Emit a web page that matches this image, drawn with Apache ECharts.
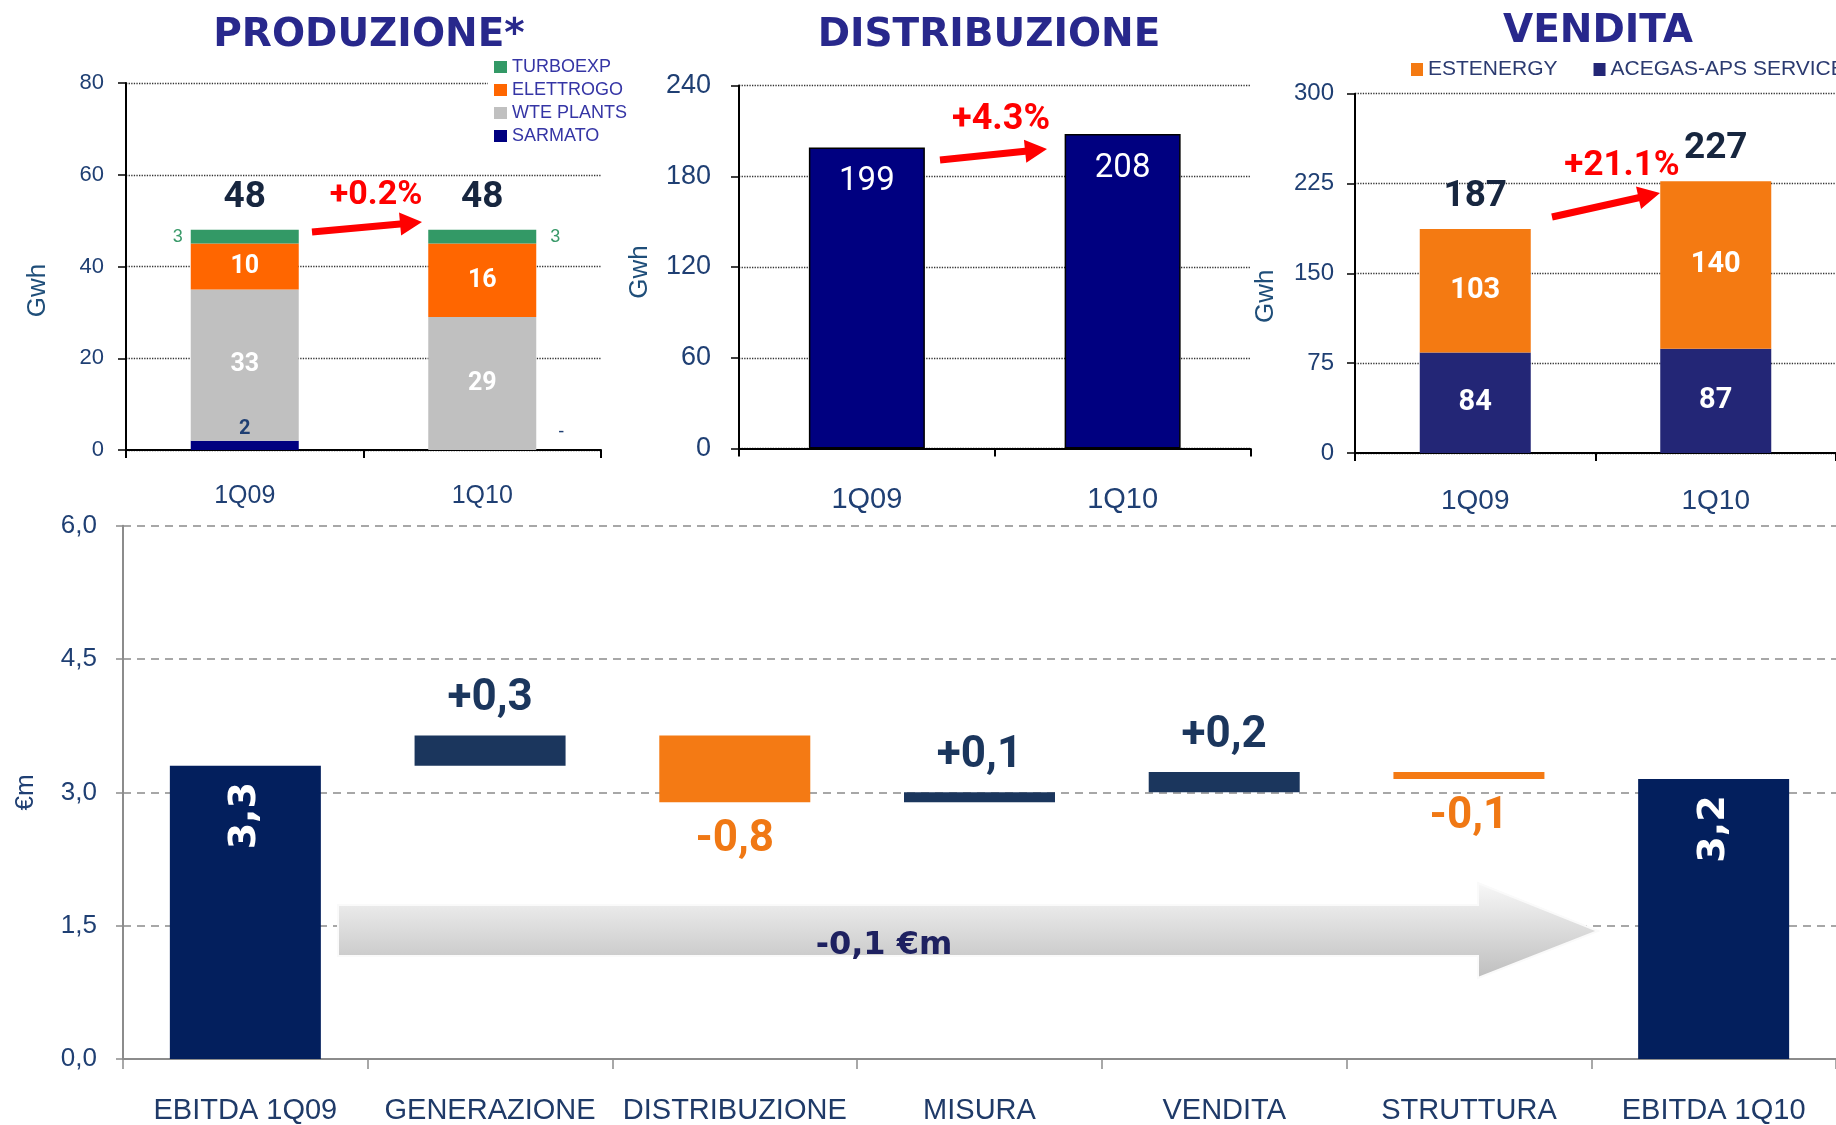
<!DOCTYPE html>
<html>
<head>
<meta charset="utf-8">
<script src="https://cdn.jsdelivr.net/npm/echarts@6/dist/echarts.min.js"></script>
<style>
  html, body { margin: 0; padding: 0; background: #fff; }
  #chart { width: 1836px; height: 1125px; }
</style>
</head>
<body>
<div id="chart"></div>
<script>
// --- data ---
const prodCats = ["1Q09", "1Q10"];
const prodSarmato = [2, 0];
const prodWte = [33, 29];
const prodElettrogo = [10, 16];
const prodTurbo = [3, 3];

const distCats = ["1Q09", "1Q10"];
const distValues = [199, 208];

const vendCats = ["1Q09", "1Q10"];
const vendAcegas = [84, 87];
const vendEstenergy = [103, 140];

const wfCats = ["EBITDA 1Q09", "GENERAZIONE", "DISTRIBUZIONE", "MISURA", "VENDITA", "STRUTTURA", "EBITDA 1Q10"];
const wfStart = 3.3;
const wfDeltas = [0.34, -0.75, 0.11, 0.23, -0.08];
const wfLabels = ["3,3", "+0,3", "-0,8", "+0,1", "+0,2", "-0,1", "3,2"];

const growthLabels = ["+0.2%", "+4.3%", "+21.1%"];
const totalChange = "-0,1 €m";

// --- styles ---
const SANS = '"Liberation Sans", Arial, sans-serif';
const COND = 'Roboto, sans-serif';
const AXIS_BLUE = "#1F3F73";
const NAVY = "#000080";
const TOTAL_DARK = "#17263F";

const prodTotal = prodCats.map((c, i) => prodSarmato[i] + prodWte[i] + prodElettrogo[i] + prodTurbo[i]);
const vendTotal = vendCats.map((c, i) => vendAcegas[i] + vendEstenergy[i]);

// waterfall: transparent base + visible segment
const wfBase = [0];
const wfHeight = [wfStart];
let run = wfStart;
wfDeltas.forEach(d => {
  if (d >= 0) { wfBase.push(run); wfHeight.push(d); }
  else { wfBase.push(run + d); wfHeight.push(-d); }
  run += d;
});
wfBase.push(0);
wfHeight.push(run);

const wfData = wfHeight.map((h, i) => {
  const isTotal = i === 0 || i === wfHeight.length - 1;
  if (isTotal) {
    return {
      value: h,
      itemStyle: { color: "#031F5D" },
      label: {
        show: true, formatter: wfLabels[i], position: ["50%", 50], rotate: 90,
        align: "center", verticalAlign: "middle", color: "#fff",
        fontFamily: '"DejaVu Sans", sans-serif', fontWeight: "bold", fontSize: 38
      }
    };
  }
  const pos = wfDeltas[i - 1] >= 0;
  return {
    value: h,
    itemStyle: { color: pos ? "#1B365D" : "#F47A14" },
    label: {
      show: true, formatter: wfLabels[i], position: pos ? "top" : "bottom",
      distance: pos ? 14 : 16, color: pos ? "#1B365D" : "#F07814",
      fontFamily: COND, fontWeight: "bold", fontSize: 44
    }
  };
});

function arrow(x1, y1, x2, y2, shaft, headW, headL) {
  const len = Math.hypot(x2 - x1, y2 - y1);
  const ux = (x2 - x1) / len, uy = (y2 - y1) / len;
  const nx = -uy, ny = ux;
  const bx = x2 - ux * headL, by = y2 - uy * headL;
  return [
    [x1 + nx * shaft / 2, y1 + ny * shaft / 2],
    [bx + nx * shaft / 2, by + ny * shaft / 2],
    [bx + nx * headW / 2, by + ny * headW / 2],
    [x2, y2],
    [bx - nx * headW / 2, by - ny * headW / 2],
    [bx - nx * shaft / 2, by - ny * shaft / 2],
    [x1 - nx * shaft / 2, y1 - ny * shaft / 2]
  ];
}

function redArrow(x1, y1, x2, y2) {
  return { type: "polygon", z: 100, shape: { points: arrow(x1, y1, x2, y2, 7, 23, 22) }, style: { fill: "#FF0000" } };
}

function txt(x, y, text, fill, font) {
  return {
    type: "text", x: x, y: y, z: 101,
    style: { text: text, fill: fill, font: font, textAlign: "center", textVerticalAlign: "middle", align: "center", verticalAlign: "middle" }
  };
}

function topX(idx, data, size, margin) {
  return {
    type: "category", gridIndex: idx, data: data,
    axisLine: { lineStyle: { color: "#000", width: 2 } },
    axisTick: { show: true, length: 8, lineStyle: { color: "#000", width: 2 } },
    axisLabel: { color: AXIS_BLUE, fontFamily: SANS, fontSize: size, margin: margin }
  };
}

function topY(idx, max, interval, size, margin, nameGap, namePad) {
  return {
    type: "value", gridIndex: idx, min: 0, max: max, interval: interval,
    name: "Gwh", nameLocation: "middle", nameRotate: 90, nameGap: nameGap,
    nameTextStyle: { color: "#1F4E79", fontFamily: SANS, fontSize: 26, padding: namePad },
    axisLine: { show: true, lineStyle: { color: "#000", width: 2 } },
    axisTick: { show: true, length: 8, lineStyle: { color: "#000", width: 1.5 } },
    axisLabel: { color: AXIS_BLUE, fontFamily: SANS, fontSize: size, margin: margin },
    splitLine: { lineStyle: { type: "dotted", color: "#333", width: 1.3 } }
  };
}

function totalSeries(axis, data) {
  return {
    type: "scatter", xAxisIndex: axis, yAxisIndex: axis, data: data, symbolSize: 1, silent: true,
    itemStyle: { color: "rgba(0,0,0,0)", opacity: 1 },
    label: { show: true, position: "top", distance: 13, color: TOTAL_DARK, opacity: 1, fontFamily: COND, fontWeight: "bold", fontSize: 37 }
  };
}

const chart = echarts.init(document.getElementById("chart"));

chart.setOption({
  animation: false,
  title: [
    { text: "PRODUZIONE*", left: 369, top: 16 },
    { text: "DISTRIBUZIONE", left: 989, top: 16 },
    { text: "VENDITA", left: 1598, top: 12 }
  ].map(t => Object.assign(t, {
    textAlign: "center", padding: 0,
    textStyle: { color: "#28288C", fontFamily: '"DejaVu Sans", sans-serif', fontWeight: "bold", fontSize: 39 }
  })),
  legend: [
    {
      data: ["TURBOEXP", "ELETTROGO", "WTE PLANTS", "SARMATO"],
      orient: "vertical", left: 488, top: 56, padding: [2, 4, 2, 6], itemGap: 5,
      backgroundColor: "#fff",
      itemWidth: 13, itemHeight: 12, icon: "rect", selectedMode: false,
      textStyle: { color: "#3535A5", fontFamily: SANS, fontSize: 18 }
    },
    {
      data: ["ESTENERGY", "ACEGAS-APS SERVICE"],
      orient: "horizontal", left: 1411, top: 59, width: 600, padding: 0, itemGap: 36,
      itemWidth: 12, itemHeight: 13, icon: "rect", selectedMode: false,
      textStyle: { color: "#2B3A70", fontFamily: SANS, fontSize: 21 }
    }
  ],
  grid: [
    { left: 126, top: 83, width: 475, height: 367 },
    { left: 739, top: 85.5, width: 511.5, height: 363 },
    { left: 1355, top: 93.7, width: 494, height: 359.3 },
    { left: 123, top: 525.7, width: 1713, height: 534 }
  ],
  xAxis: [
    topX(0, prodCats, 25, 34),
    topX(1, distCats, 29, 37),
    topX(2, vendCats, 28, 34),
    {
      type: "category", gridIndex: 3, data: wfCats,
      axisLine: { lineStyle: { color: "#8C8C8C", width: 2 } },
      axisTick: { show: true, length: 10, lineStyle: { color: "#8C8C8C", width: 1.5 } },
      axisLabel: { interval: 0, color: "#1F3A68", fontFamily: SANS, fontSize: 29, margin: 37 }
    }
  ],
  yAxis: [
    topY(0, 80, 20, 22, 22, 75, [0, 48, 0, 0]),
    topY(1, 240, 60, 27, 28, 86, [0, 10, 0, 0]),
    topY(2, 300, 75, 24, 21, 76, [0, 46, 0, 0]),
    {
      type: "value", gridIndex: 3, min: 0, max: 6, interval: 1.5,
      name: "€m", nameLocation: "middle", nameRotate: 90, nameGap: 84,
      nameTextStyle: { color: AXIS_BLUE, fontFamily: SANS, fontSize: 26 },
      axisLine: { show: true, lineStyle: { color: "#8C8C8C", width: 2 } },
      axisTick: { show: true, length: 7, lineStyle: { color: "#8C8C8C", width: 1.5 } },
      axisLabel: { color: AXIS_BLUE, fontFamily: SANS, fontSize: 26, margin: 26, formatter: v => v.toFixed(1).replace(".", ",") },
      splitLine: { lineStyle: { type: [8, 6], color: "#8A8A8A", width: 1.5 } }
    }
  ],
  series: [
    // PRODUZIONE
    {
      name: "SARMATO", type: "bar", xAxisIndex: 0, yAxisIndex: 0, stack: "prod", barWidth: 108,
      itemStyle: { color: NAVY },
      data: prodSarmato.map((v, i) => ({
        value: v,
        label: i === 0
          ? { show: true, position: "top", distance: 2, color: AXIS_BLUE, fontFamily: COND, fontWeight: "bold", fontSize: 20 }
          : { show: true, position: "right", distance: 22, offset: [0, -18], formatter: "-", color: AXIS_BLUE, fontFamily: SANS, fontSize: 18 }
      }))
    },
    {
      name: "WTE PLANTS", type: "bar", xAxisIndex: 0, yAxisIndex: 0, stack: "prod", barWidth: 108,
      itemStyle: { color: "#C0C0C0" }, data: prodWte,
      label: { show: true, position: "inside", color: "#fff", fontFamily: COND, fontWeight: "bold", fontSize: 25 }
    },
    {
      name: "ELETTROGO", type: "bar", xAxisIndex: 0, yAxisIndex: 0, stack: "prod", barWidth: 108,
      itemStyle: { color: "#FF6600" }, data: prodElettrogo,
      label: { show: true, position: "inside", color: "#fff", fontFamily: COND, fontWeight: "bold", fontSize: 25 }
    },
    {
      name: "TURBOEXP", type: "bar", xAxisIndex: 0, yAxisIndex: 0, stack: "prod", barWidth: 108,
      itemStyle: { color: "#339966" },
      data: prodTurbo.map((v, i) => ({
        value: v,
        label: { show: true, position: i === 0 ? "left" : "right", distance: i === 0 ? 8 : 14, color: "#3A9A6A", fontFamily: SANS, fontSize: 18 }
      }))
    },
    totalSeries(0, prodTotal),
    // DISTRIBUZIONE
    {
      name: "DISTRIBUZIONE", type: "bar", xAxisIndex: 1, yAxisIndex: 1, barWidth: 116,
      itemStyle: { color: NAVY, borderColor: "#000", borderWidth: 1.5 }, data: distValues,
      label: { show: true, position: "insideTop", distance: 18, color: "#fff", fontFamily: COND, fontSize: 33 }
    },
    // VENDITA
    {
      name: "ACEGAS-APS SERVICE", type: "bar", xAxisIndex: 2, yAxisIndex: 2, stack: "vend", barWidth: 111,
      itemStyle: { color: "#232676" }, data: vendAcegas,
      label: { show: true, position: "inside", color: "#fff", fontFamily: COND, fontWeight: "bold", fontSize: 29 }
    },
    {
      name: "ESTENERGY", type: "bar", xAxisIndex: 2, yAxisIndex: 2, stack: "vend", barWidth: 111,
      itemStyle: { color: "#F47A12" }, data: vendEstenergy,
      label: { show: true, position: "inside", color: "#fff", fontFamily: COND, fontWeight: "bold", fontSize: 29 }
    },
    totalSeries(2, vendTotal),
    // EBITDA waterfall
    {
      type: "bar", xAxisIndex: 3, yAxisIndex: 3, stack: "wf", barWidth: 151, silent: true,
      itemStyle: { color: "rgba(0,0,0,0)" }, data: wfBase
    },
    {
      name: "EBITDA", type: "bar", xAxisIndex: 3, yAxisIndex: 3, stack: "wf", barWidth: 151,
      data: wfData
    }
  ],
  graphic: [
    redArrow(312, 232, 422, 222),
    redArrow(940, 160, 1047, 149),
    redArrow(1552, 217, 1660, 193),
    txt(376, 195, growthLabels[0], "#FF0000", "bold 34px " + COND),
    txt(1001, 120, growthLabels[1], "#FF0000", "bold 36px " + COND),
    txt(1622, 166, growthLabels[2], "#FF0000", "bold 35px " + COND),
    {
      type: "polygon", z: 90,
      shape: { points: [[338, 905], [1478, 905], [1478, 883], [1598, 931], [1478, 978], [1478, 956], [338, 956]] },
      style: {
        fill: new echarts.graphic.LinearGradient(0, 0, 0, 1, [
          { offset: 0, color: "#F8F8F8" },
          { offset: 1, color: "#BEBEBE" }
        ]),
        stroke: "#FAFAFA", lineWidth: 2
      }
    },
    txt(884, 946, totalChange, "#1E2160", 'bold 32px "DejaVu Sans", sans-serif')
  ]
});

window.addEventListener("resize", () => chart.resize());
</script>
</body>
</html>
